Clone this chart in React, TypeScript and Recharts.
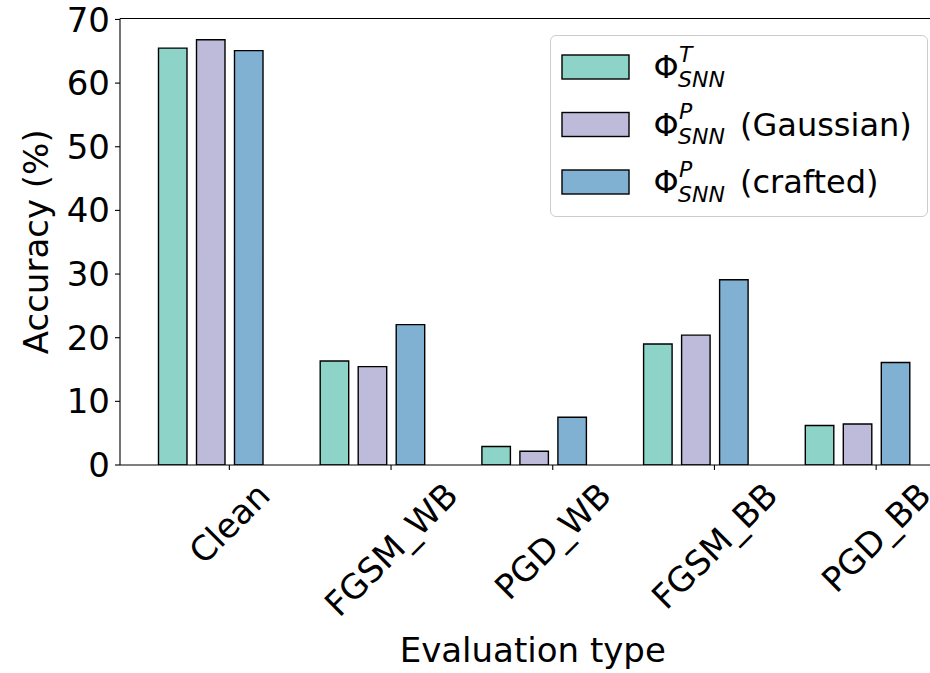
import React from 'react';
import { BarChart, Bar, XAxis, YAxis, Legend, Label, ReferenceLine } from 'recharts';

const CATEGORIES = ['Clean', 'FGSM_WB', 'PGD_WB', 'FGSM_BB', 'PGD_BB'];
const PHI_T = [65.5, 16.35, 2.9, 19.0, 6.2];
const PHI_P_GAUSSIAN = [66.8, 15.45, 2.15, 20.4, 6.45];
const PHI_P_CRAFTED = [65.1, 22.05, 7.5, 29.1, 16.1];
const Y_TICKS = [0, 10, 20, 30, 40, 50, 60, 70];
const Y_MAX = 70.15;

const SERIES = [
  { key: 'phiT', values: PHI_T, color: '#8dd3c7', sup: 'T', suffix: '' },
  { key: 'phiPG', values: PHI_P_GAUSSIAN, color: '#bebada', sup: 'P', suffix: '(Gaussian)' },
  { key: 'phiPC', values: PHI_P_CRAFTED, color: '#80b1d3', sup: 'P', suffix: '(crafted)' },
];

const data = CATEGORIES.map((name, i) => {
  const row: any = { name };
  SERIES.forEach((s) => (row[s.key] = s.values[i]));
  return row;
});

const FONT = '"DejaVu Sans", sans-serif';
const TICK_FONT = 34;
const BAR_SIZE = 28.5;
const BAR_GAP = 9.5;
const TICK_SHIFT = (BAR_SIZE + BAR_GAP) / 2;
const TICK_LEN = 5;
const TICK_PAD = 5;

let ctx: CanvasRenderingContext2D | null = null;
function measure(text: string, size: number) {
  if (!ctx) {
    const c = document.createElement('canvas');
    ctx = c.getContext('2d');
  }
  if (!ctx) return text.length * size * 0.62;
  ctx.font = `${size}px "DejaVu Sans"`;
  return ctx.measureText(text).width;
}

const XTick = (props: any) => {
  const { x, y, payload } = props;
  const tx = x + TICK_SHIFT;
  const w = measure(String(payload.value), TICK_FONT);
  const H = TICK_FONT * 1.17;
  const half = (w + H) / (2 * Math.SQRT2);
  const cy = y + TICK_LEN + TICK_PAD + half;
  return (
    <g>
      <line x1={tx} x2={tx} y1={y} y2={y + TICK_LEN} stroke="#000" strokeWidth={1.1} />
      <text
        x={tx}
        y={cy}
        textAnchor="middle"
        dominantBaseline="central"
        transform={`rotate(-45 ${tx} ${cy})`}
        fontSize={TICK_FONT}
        fontFamily={FONT}
        fill="#000"
      >
        {payload.value}
      </text>
    </g>
  );
};

const YLabel = (props: any) => {
  const vb = props.viewBox || { x: 0, y: 0, width: 0, height: 0 };
  const cx = vb.x + 48;
  const cy = vb.y + vb.height / 2;
  return (
    <text
      x={cx}
      y={cy}
      textAnchor="middle"
      transform={`rotate(-90 ${cx} ${cy})`}
      fontSize={34}
      fontFamily={FONT}
      fill="#000"
    >
      Accuracy (%)
    </text>
  );
};

const LEG_W = 378;
const LEG_H = 182;

const LegendContent = () => (
  <div
    style={{
      width: LEG_W,
      height: LEG_H,
      boxSizing: 'border-box',
      border: '1.3px solid #cccccc',
      borderRadius: 6,
      background: 'rgba(255,255,255,0.8)',
      position: 'relative',
    }}
  >
    <svg width={LEG_W} height={LEG_H} style={{ position: 'absolute', left: -1, top: -1, overflow: 'visible' }}>
      {SERIES.map((s, i) => {
        const cy = 32 + i * 57.5;
        return (
          <g key={s.key} fontFamily={FONT} fill="#000">
            <rect x={12} y={cy - 12} width={67} height={24} fill={s.color} stroke="#000" strokeWidth={1.4} />
            <text x={103.5} y={cy + 11} fontSize={32}>Φ</text>
            <text x={129} y={cy - 5.5} fontSize={22} fontStyle="italic">{s.sup}</text>
            <text x={128} y={cy + 19.5} fontSize={22} fontStyle="italic">SNN</text>
            {s.suffix ? (
              <text x={190} y={cy + 11} fontSize={32}>{s.suffix}</text>
            ) : null}
          </g>
        );
      })}
    </svg>
  </div>
);

export default function App() {
  return (
    <div
      style={{
        position: 'fixed',
        left: 0,
        top: 0,
        width: 930,
        height: 673,
        overflow: 'hidden',
        background: '#fff',
      }}
    >
      <BarChart
        width={960}
        height={673}
        data={data}
        margin={{ top: 18.5, right: 14.5, left: 0, bottom: 0 }}
        barSize={BAR_SIZE}
        barGap={BAR_GAP}
        style={{ fontFamily: FONT }}
      >
        <XAxis
          dataKey="name"
          height={208}
          interval={0}
          padding={{ left: 9.5, right: 7.5 }}
          tickSize={0}
          tickMargin={0}
          tickLine={false}
          axisLine={{ stroke: '#000', strokeWidth: 1.1 }}
          tick={<XTick />}
          label={{
            value: 'Evaluation type',
            position: 'insideBottom',
            offset: 11,
            style: { fontSize: 34, fill: '#000', fontFamily: FONT },
          }}
        />
        <YAxis
          type="number"
          width={120}
          domain={[0, Y_MAX]}
          ticks={Y_TICKS}
          allowDataOverflow
          tickSize={5}
          tickMargin={5}
          tickLine={{ stroke: '#000', strokeWidth: 1.1 }}
          axisLine={{ stroke: '#000', strokeWidth: 1.1 }}
          tick={{ fontSize: 34, fill: '#000', fontFamily: FONT }}
        >
          <Label content={YLabel} />
        </YAxis>
        <ReferenceLine y={Y_MAX} stroke="#000" strokeWidth={1.1} />
        {SERIES.map((s) => (
          <Bar
            key={s.key}
            dataKey={s.key}
            fill={s.color}
            stroke="#000"
            strokeWidth={1.4}
            isAnimationActive={false}
          />
        ))}
        <Legend
          layout="vertical"
          align="center"
          verticalAlign="middle"
          wrapperStyle={{ left: 550, top: 35, width: LEG_W, height: LEG_H }}
          content={<LegendContent />}
        />
      </BarChart>
    </div>
  );
}
